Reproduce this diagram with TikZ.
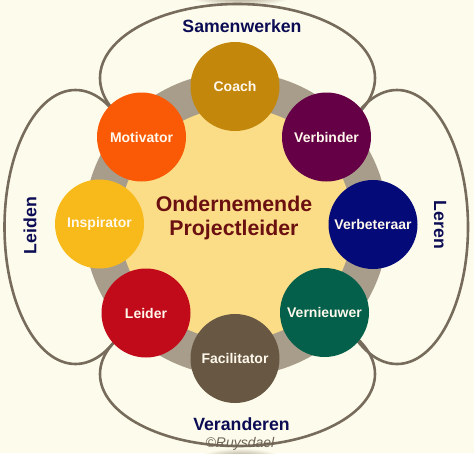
\documentclass[tikz,border=0pt]{standalone}
\usepackage{fontspec}
\setmainfont{Liberation Sans}
\definecolor{bg}{HTML}{FDFCEC}
\definecolor{petalc}{HTML}{776B5C}
\definecolor{ringc}{HTML}{A89D8B}
\definecolor{discc}{HTML}{FBDC87}
\definecolor{navy}{HTML}{0C0C55}
\definecolor{maroon}{HTML}{6B1010}
\definecolor{copyc}{HTML}{6E6254}
\definecolor{rolefg}{HTML}{FFF8EC}
\definecolor{cCoach}{HTML}{C3870B}
\definecolor{cVerbinder}{HTML}{660046}
\definecolor{cVerbeteraar}{HTML}{050A79}
\definecolor{cVernieuwer}{HTML}{04604A}
\definecolor{cFacilitator}{HTML}{685843}
\definecolor{cLeider}{HTML}{C10A1A}
\definecolor{cInspirator}{HTML}{F8BA1A}
\definecolor{cMotivator}{HTML}{FA5A05}
\definecolor{shadowc}{HTML}{9E927F}
\tikzset{
  petal/.style={draw=petalc, line width=2.6pt},
  role/.style={circle, minimum size=89pt, inner sep=0pt, text=rolefg,
    font=\fontsize{14}{16}\selectfont\bfseries},
  theme/.style={text=navy, inner sep=0pt, font=\fontsize{17.7}{20}\selectfont\bfseries},
}
\begin{document}
\begin{tikzpicture}[x=1pt, y=-1pt]
\useasboundingbox (0,0) rectangle (474,453);
\fill[bg] (0,0) rectangle (474,453);
% soft shadows at top and bottom edges
\begin{scope}
\clip (0,0) rectangle (474,453);
\shade[inner color=shadowc, outer color=bg] (240,-4) ellipse [x radius=52pt, y radius=10pt];
\shade[inner color=shadowc, outer color=bg] (240,458) ellipse [x radius=40pt, y radius=10pt];
\end{scope}
% petals
\draw[petal] (237.5,78) ellipse [x radius=137.5pt, y radius=74pt];
\draw[petal] (237.5,374) ellipse [x radius=137.5pt, y radius=72pt];
\draw[petal] (75.5,227) ellipse [x radius=71pt, y radius=137pt];
\draw[petal] (397,227) ellipse [x radius=71pt, y radius=137pt];
% ring and disc
\fill[ringc] (236,224) circle [radius=152pt];
\fill[discc] (236,224) circle [radius=116pt];
% roles
\node[role, fill=cCoach] (coach) at (235,86.5) {Coach};
\node[role, fill=cVerbinder] (verbinder) at (326.5,137) {Verbinder};
\node[role, fill=cVerbeteraar] (verbeteraar) at (373,224.5) {Verbeteraar};
\node[role, fill=cVernieuwer] (vernieuwer) at (324.5,312.5) {Vernieuwer};
\node[role, fill=cFacilitator] (facilitator) at (235,358.5) {Facilitator};
\node[role, fill=cLeider] (leider) at (146,313) {Leider};
\node[role, fill=cInspirator] (inspirator) at (99.5,224) {Inspirator};
\node[role, fill=cMotivator] (motivator) at (141.5,137) {Motivator};
% centre
\node[align=center, text=maroon, inner sep=0pt,
  font=\fontsize{21.3}{23.5}\selectfont\bfseries] (title) at (234,218) {Ondernemende\\Projectleider};
% themes
\node[theme, anchor=base] (samen) at (242,32) {Samenwerken};
\node[theme, anchor=base] (veranderen) at (241.5,430) {Veranderen};
\node[theme, rotate=90] (leiden) at (30,225.5) {Leiden};
\node[theme, rotate=-90] (leren) at (440,225) {Leren};
\node[anchor=base, text=copyc, inner sep=0pt, font=\fontsize{14}{16}\selectfont\itshape] (copy) at (240,447) {©Ruysdael};
\end{tikzpicture}
\end{document}
